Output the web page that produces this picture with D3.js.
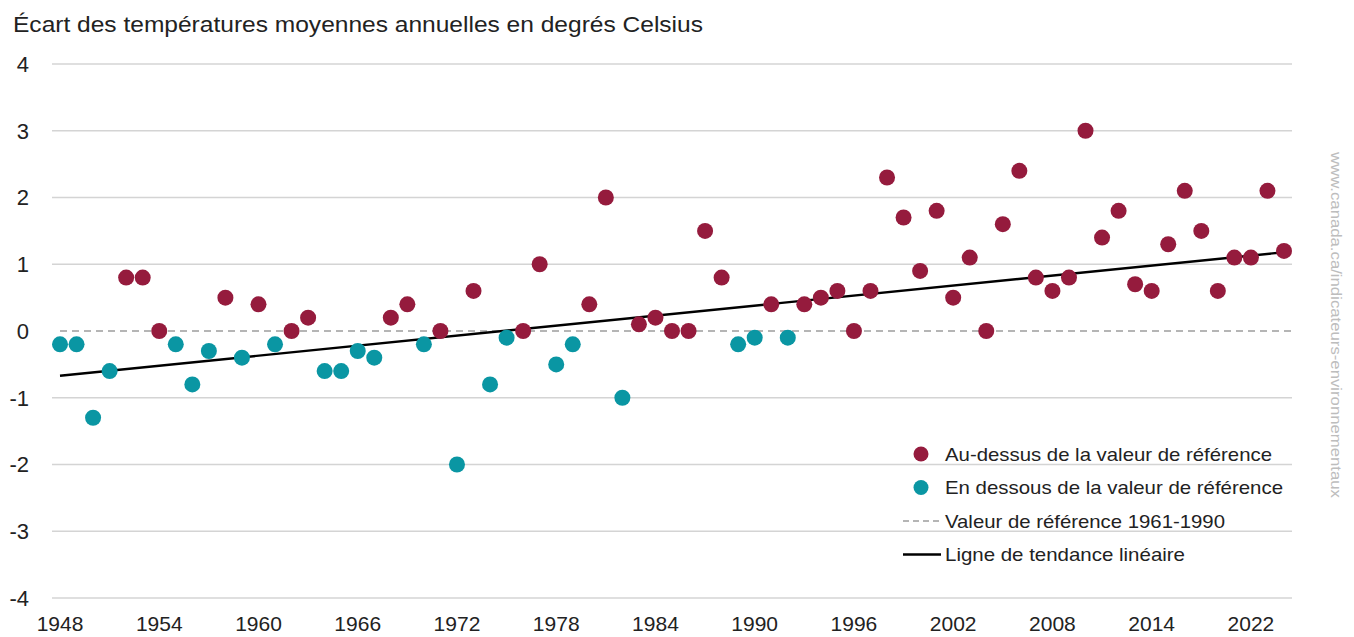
<!DOCTYPE html>
<html lang="fr">
<head>
<meta charset="utf-8">
<script src="https://cdn.jsdelivr.net/npm/d3@7"></script>
<style>
  body { margin: 0; background: #fff; }
  svg text { font-family: "Liberation Sans", Arial, sans-serif; fill: #222; }
</style>
</head>
<body>
<div id="chart"></div>
<script>
// années (catégories) et écarts de température (°C)
const years = d3.range(1948, 2023);
const anomalies = [
  -0.2, -0.2, -1.3, -0.6, 0.8, 0.8, 0.0, -0.2, -0.8, -0.3,
  0.5, -0.4, 0.4, -0.2, 0.0, 0.2, -0.6, -0.6, -0.3, -0.4,
  0.2, 0.4, -0.2, 0.0, -2.0, 0.6, -0.8, -0.1, 0.0, 1.0,
  -0.5, -0.2, 0.4, 2.0, -1.0, 0.1, 0.2, 0.0, 0.0, 1.5,
  0.8, -0.2, -0.1, 0.4, -0.1, 0.4, 0.5, 0.6, 0.0, 0.6,
  2.3, 1.7, 0.9, 1.8, 0.5, 1.1, 0.0, 1.6, 2.4, 0.8,
  0.6, 0.8, 3.0, 1.4, 1.8, 0.7, 0.6, 1.3, 2.1, 1.5,
  0.6, 1.1, 1.1, 2.1, 1.2
];
// tendance linéaire (début, fin)
const trendYears = [1948, 2022];
const trendValues = [-0.67, 1.18];

const xTickYears = [1948, 1954, 1960, 1966, 1972, 1978, 1984, 1990, 1996, 2002, 2008, 2014, 2020];
const xTickLabels = ["1948", "1954", "1960", "1966", "1972", "1978", "1984", "1990", "1996", "2002", "2008", "2014", "2022"];
const yTicks = [4, 3, 2, 1, 0, -1, -2, -3, -4];
const baseline = 0;

const legendItems = [
  { kind: "dot", color: "#951b3d", label: "Au-dessus de la valeur de référence", w: 327 },
  { kind: "dot", color: "#0a96a3", label: "En dessous de la valeur de référence", w: 338 },
  { kind: "dash", color: "#b5b5b5", label: "Valeur de référence 1961-1990", w: 280 },
  { kind: "line", color: "#000", label: "Ligne de tendance linéaire", w: 240 }
];

const width = 1354, height = 637;
const svg = d3.select("#chart").append("svg")
  .attr("width", width).attr("height", height);

const x = d3.scaleLinear().domain([1948, 2022]).range([60, 1284]);
const y = d3.scaleLinear().domain([-4, 4]).range([598, 64]);

// titre
svg.append("text")
  .attr("x", 13).attr("y", 32)
  .attr("textLength", 690).attr("lengthAdjust", "spacingAndGlyphs")
  .style("font-size", "22px")
  .text("Écart des températures moyennes annuelles en degrés Celsius");

// grille + étiquettes y
svg.append("g").selectAll("line")
  .data(yTicks.filter(d => d !== 0))
  .enter().append("line")
  .attr("x1", 52).attr("x2", 1292)
  .attr("y1", d => y(d)).attr("y2", d => y(d))
  .attr("stroke", "#d4d4d4").attr("stroke-width", 1.3);

svg.append("g").selectAll("text")
  .data(yTicks)
  .enter().append("text")
  .attr("x", 29).attr("y", d => y(d))
  .attr("dy", "0.36em")
  .attr("text-anchor", "end")
  .style("font-size", "22px")
  .text(d => d);

// étiquettes x
svg.append("g").selectAll("text")
  .data(xTickYears)
  .enter().append("text")
  .attr("x", d => x(d)).attr("y", 631)
  .attr("text-anchor", "middle")
  .style("font-size", "21px")
  .text((d, i) => xTickLabels[i]);

// valeur de référence
svg.append("line")
  .attr("x1", x(1948)).attr("x2", 1292)
  .attr("y1", y(baseline)).attr("y2", y(baseline))
  .attr("stroke", "#b5b5b5").attr("stroke-width", 1.8)
  .attr("stroke-dasharray", "7,5");

// tendance linéaire
const trend = trendYears.map((d, i) => ({ year: d, v: trendValues[i] }));
svg.append("path")
  .datum(trend)
  .attr("fill", "none").attr("stroke", "#000").attr("stroke-width", 2.4)
  .attr("d", d3.line().x(d => x(d.year)).y(d => y(d.v)));

// points
svg.append("g").selectAll("circle")
  .data(years.map((d, i) => ({ year: d, v: anomalies[i] })))
  .enter().append("circle")
  .attr("cx", d => x(d.year)).attr("cy", d => y(d.v))
  .attr("r", 8)
  .attr("fill", d => d.v >= baseline ? legendItems[0].color : legendItems[1].color);

// légende
const lg = svg.append("g");
legendItems.forEach((d, i) => {
  const ly = 454 + i * 33.5;
  if (d.kind === "dot") {
    lg.append("circle").attr("cx", 921).attr("cy", ly).attr("r", 7.5).attr("fill", d.color);
  } else {
    lg.append("line").attr("x1", 903).attr("x2", 941).attr("y1", ly).attr("y2", ly)
      .attr("stroke", d.color).attr("stroke-width", d.kind === "dash" ? 1.8 : 2.4)
      .attr("stroke-dasharray", d.kind === "dash" ? "6,4" : null);
  }
  lg.append("text").attr("x", 945).attr("y", ly)
    .attr("dy", "0.36em")
    .attr("textLength", d.w).attr("lengthAdjust", "spacingAndGlyphs")
    .style("font-size", "19px")
    .text(d.label);
});

// source
svg.append("text")
  .attr("transform", "translate(1331,325) rotate(90)")
  .attr("text-anchor", "middle")
  .attr("textLength", 346).attr("lengthAdjust", "spacingAndGlyphs")
  .style("font-size", "15px")
  .style("fill", "#bdbdbd")
  .text("www.canada.ca/indicateurs-environnementaux");
</script>
</body>
</html>
